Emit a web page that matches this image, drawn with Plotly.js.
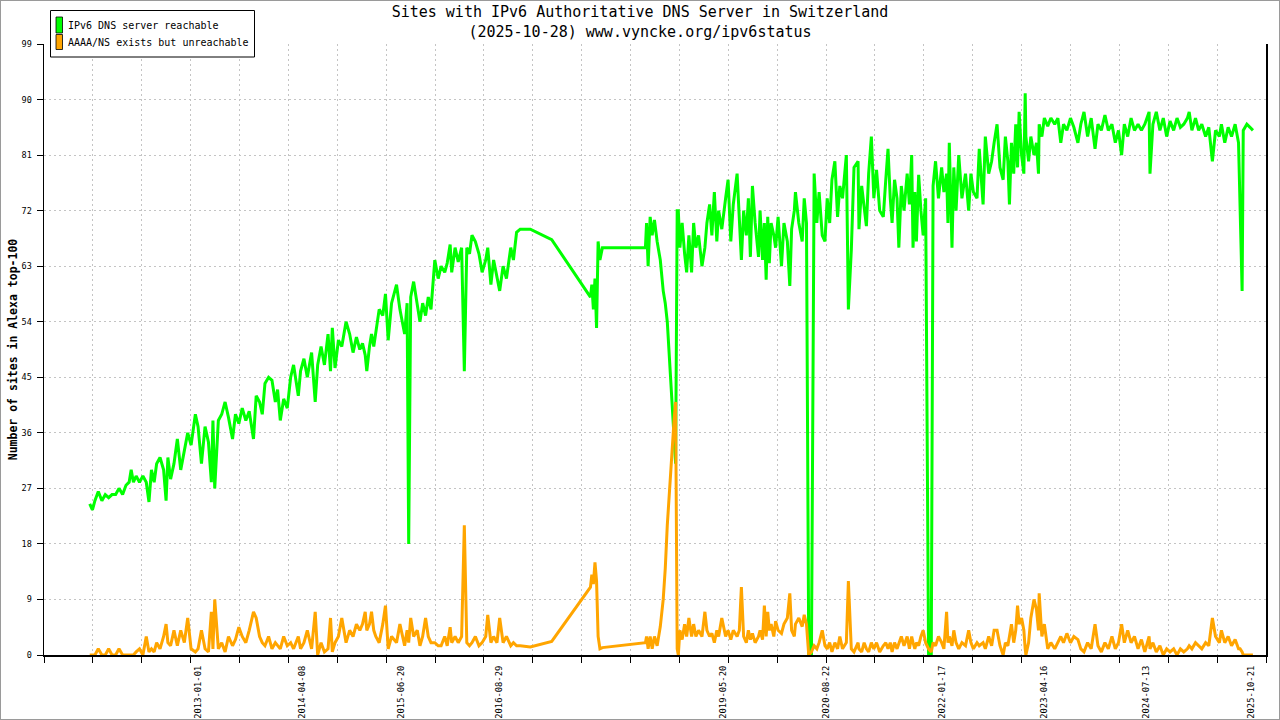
<!DOCTYPE html>
<html><head><meta charset="utf-8">
<script src="https://cdn.plot.ly/plotly-3.0.1.min.js"></script>
<style>
html,body{margin:0;padding:0;background:#fff;}
#wrap{position:relative;width:1280px;height:720px;}
#chart{width:1280px;height:720px;}
#frame{position:absolute;left:0;top:0;width:1280px;height:720px;box-sizing:border-box;border:1px solid #9a9a9a;pointer-events:none;}
</style></head><body>
<div id="wrap"><div id="chart"></div><div id="frame"></div></div>
<script>
const dates = [
'2011-09-08','2011-09-20','2011-10-01','2011-10-16','2011-11-01','2011-11-16','2011-12-01','2011-12-16',
'2012-01-01','2012-01-16','2012-02-01','2012-02-16','2012-03-01','2012-03-10','2012-03-20','2012-04-01','2012-04-16','2012-05-01','2012-05-16','2012-05-28','2012-06-08','2012-06-20','2012-07-01','2012-07-16','2012-08-01','2012-08-12','2012-08-20','2012-09-01','2012-09-16','2012-10-01','2012-10-16','2012-11-01','2012-11-16','2012-12-01','2012-12-20',
'2013-01-01','2013-01-16','2013-02-01','2013-02-16','2013-03-01','2013-03-08','2013-03-16','2013-04-01','2013-04-16','2013-05-01','2013-05-16','2013-06-03','2013-06-16','2013-07-01','2013-07-16','2013-08-01','2013-08-16','2013-09-04','2013-09-16','2013-10-01','2013-10-13','2013-10-25','2013-11-10','2013-11-25','2013-12-10','2013-12-20',
'2014-01-01','2014-01-16','2014-02-01','2014-02-16','2014-03-01','2014-03-22','2014-04-01','2014-04-16','2014-05-01','2014-05-20','2014-06-05','2014-06-16','2014-07-01','2014-07-16','2014-08-01','2014-08-12','2014-08-20','2014-09-01','2014-09-16','2014-10-01','2014-10-20','2014-11-05','2014-11-20','2014-12-05','2014-12-20',
'2015-01-01','2015-01-13','2015-01-20','2015-02-01','2015-02-10','2015-02-20','2015-03-01','2015-03-16','2015-04-01','2015-04-13','2015-04-25','2015-05-10','2015-06-01','2015-06-16','2015-07-07','2015-07-18','2015-07-25','2015-08-03','2015-08-16','2015-09-01','2015-09-13','2015-09-25','2015-10-08','2015-10-20','2015-11-01','2015-11-18','2015-12-03','2015-12-16',
'2016-01-01','2016-01-12','2016-01-25','2016-02-01','2016-02-16','2016-03-01','2016-03-16','2016-03-28','2016-04-08','2016-04-20','2016-05-01','2016-05-16','2016-06-01','2016-06-15','2016-07-01','2016-07-10','2016-07-24','2016-08-05','2016-08-20','2016-09-01','2016-09-16','2016-10-01','2016-10-20','2016-11-01','2016-11-15','2016-12-01',
'2017-01-15','2017-04-20','2017-10-09','2017-10-15','2017-10-22','2017-10-29','2017-11-05','2017-11-12','2017-11-20','2017-12-01',
'2018-06-10','2018-06-15','2018-06-22','2018-07-01','2018-07-10','2018-07-20','2018-08-01','2018-08-15','2018-08-28','2018-09-06','2018-09-15','2018-09-28','2018-10-07','2018-10-16','2018-10-22','2018-10-29','2018-11-03','2018-11-10','2018-11-20','2018-12-01','2018-12-10','2018-12-20',
'2019-01-01','2019-01-10','2019-01-20','2019-02-01','2019-02-16','2019-03-01','2019-03-10','2019-03-22','2019-04-01','2019-04-12','2019-04-23','2019-05-01','2019-05-15','2019-06-01','2019-06-12','2019-06-24','2019-07-05','2019-07-22','2019-08-01','2019-08-10','2019-08-20','2019-09-01','2019-09-10','2019-09-19','2019-09-28','2019-10-10','2019-10-25','2019-11-01','2019-11-12','2019-11-20','2019-11-28','2019-12-05','2019-12-12','2019-12-20',
'2020-01-01','2020-01-09','2020-01-20','2020-02-04','2020-02-15','2020-03-01','2020-03-12','2020-03-20','2020-04-01','2020-04-06','2020-04-21','2020-05-06','2020-05-15','2020-05-25','2020-06-04','2020-06-16','2020-06-28','2020-07-10','2020-07-20','2020-08-03','2020-08-15','2020-08-25','2020-09-05','2020-09-15','2020-09-28','2020-10-10','2020-10-20','2020-11-01','2020-11-18','2020-11-27','2020-12-10','2020-12-22',
'2021-01-09','2021-01-13','2021-01-25','2021-02-05','2021-02-15','2021-02-25','2021-03-09','2021-03-20','2021-04-01','2021-04-15','2021-05-01','2021-05-12','2021-05-22','2021-06-01','2021-06-09','2021-06-20','2021-07-01','2021-07-09','2021-07-20','2021-08-01','2021-08-15','2021-08-25','2021-09-04','2021-09-10','2021-09-18','2021-09-25','2021-10-05','2021-10-15','2021-10-25','2021-11-05','2021-11-18','2021-11-30','2021-12-08','2021-12-19',
'2022-01-01','2022-01-15','2022-01-25','2022-02-06','2022-02-12','2022-02-18','2022-03-02','2022-03-10','2022-03-20','2022-04-01','2022-04-15','2022-05-01','2022-05-15','2022-05-25','2022-06-05','2022-06-21','2022-07-01','2022-07-18','2022-07-28','2022-08-12','2022-08-25','2022-09-05','2022-09-18','2022-10-01','2022-10-15','2022-10-25','2022-11-05','2022-11-12','2022-11-21','2022-12-01','2022-12-10','2022-12-18','2022-12-25',
'2023-01-05','2023-01-15','2023-01-21','2023-01-24','2023-02-05','2023-02-15','2023-03-01','2023-03-12','2023-03-21','2023-03-24','2023-04-05','2023-04-16','2023-05-01','2023-05-15','2023-06-01','2023-06-15','2023-06-28','2023-07-10','2023-07-25','2023-08-10','2023-08-25','2023-09-12','2023-09-25','2023-10-09','2023-10-25','2023-11-10','2023-11-27','2023-12-10','2023-12-25',
'2024-01-10','2024-01-25','2024-02-10','2024-02-25','2024-03-10','2024-03-24','2024-04-05','2024-04-20','2024-05-05','2024-05-20','2024-06-05','2024-06-20','2024-07-05','2024-07-24','2024-07-28','2024-08-10','2024-08-25','2024-09-10','2024-09-25','2024-10-10','2024-10-25','2024-11-10','2024-11-25','2024-12-10','2024-12-25',
'2025-01-10','2025-01-18','2025-01-30','2025-02-15','2025-03-01','2025-03-15','2025-04-01','2025-04-15','2025-05-01','2025-05-15','2025-06-01','2025-06-10','2025-06-25','2025-07-10','2025-07-25','2025-08-10','2025-08-25','2025-09-01','2025-09-10','2025-09-15','2025-10-01','2025-10-15','2025-10-28'
];
const reachable = [
24.5,23.5,25,26.5,25,26,25.5,26,
26,27,26,27.5,28,30,28,29,28,29,28,24.8,30,28,31,32,30,25,32,28.5,31,35,30,33,36,34,39,
37,31,37,34.5,28,38,27,38,39,41,38.5,35,39,37.5,40,38,39.5,35,42,41,39,44,45,44.5,41,43,
38,41.5,40,45,47,42,46,48,45,49,41,47,50,47,52,46,53,46.5,51,50,54,52,49,51.5,49.5,
50.5,48.6,46,50,52,50,52,56,55,58.5,51,57,60,56,52,57,18,58,60.5,57,54,57,55,58,56,64,61,63,
62,63.5,66.5,62,66,63.7,66,46,66,65,68,67,65,62,64,66,60,64,61,59,63,61,66,64,68.5,69,
69,67.3,58,60,56,61,53,67,64,66,
66,70,63,71,68,70.5,67,64,59,57,54,46,40,34,31,72,72,66,70,65,62,68,
62,70,66,68,63,66,70,73,68,75,67,72,69,74,77,67,73,78,70,64,72,68,74,64.5,76,70,64.5,72,64,70,60.8,71,63.5,70,
68,66,71,63,70,67,59.8,69,72,75,70,67,74,70,0,0,78,70,75,68,67,74,70,77,80,71,76,74,81,56,65.6,79,
80,69,76,72,69.5,78,84,74,78.6,72,71,77,82,74,70,77,74,66,76,72,78,73,81,66,75,67,77.8,72,68,74,0,0,76,80,
74,79,75,78,70,83,66,79,72,81,74,78,72,78,75,74,82,73,84,78,80,83,86,79,77,84,80,73,83,78,86,79,88,
81,78,91,84,80,84,81,83,78,86,84,87,85.7,87,86,87,83,86,85,87,85.5,83,86,88,84,87,82,86,85,
87.5,85,86,83,85,81,86,84,87,85,86,85,86,88,78,86,88,85,87,84,86.5,85,87,85.5,86,
87,88,85,87,85,86,84,85.5,80,85,84,86,83,85.5,84,86,83,72.7,59,85,86,85.5,85
];
const unreachable = [
0,0,0,1,0,0,1,0,
0,1,0,0,0,0,0,0.5,1,0,3,0.5,1,0.5,2,1,3,5,2,1.5,4,1.5,4,2,6,1,0.5,
1,4,1,0.5,7,1,9,1,2,0.5,3,1.5,2.5,4.5,3,2,4,7,6,3,2,1.5,3,1,2,1.5,
1,3,1.5,2,1,3,1,2,4,1,7,0,2,0.5,1,6,0.5,2,3,6,2,4,3,5,4,
5,7,4,5,7,4,3,2,5,8,1,3,2,5,1.5,4,2,6,3,4,1.5,3,6,3,2,2,1.5,1.5,
3,1.5,4.5,2,3,2,3,21,2,1.5,2,3,1.5,2,3,6.5,2,3,2,6,2,3,1.5,2,1.5,1.5,
1.3,2.2,11,13,11.5,15,12,3,1,1.2,
2,3,1,3,1,3,1.5,4.6,9,14,21,29,34,38.5,41,1,0,4,2.5,5,3,6,
3,5,3,4,3,7,4,3,3.5,2,4,3,6,3,4,2.5,4,3,4,11,3,2,4,2.5,3.5,2,3,4,2.5,8,3,7,4,5,
3,5.5,4,3.5,5,6,10,4,3,5,6,4.6,6.5,5,0,0.5,1.5,1,2,4,1.5,1,2,0.5,2,1,3,1,2,12,1,0.5,
2,1,0.5,2,1,0.5,2,1,2,0.5,1.5,2,1,2,0.5,2,1,2,3,1.5,3,1,3,2,1,2,1.5,3,4,2,1,0.5,2,1.5,
3,2,1,7,2,3,1.5,4,2,1,2,1.5,4,2,1,2,1.5,2,1,3,1.5,4,4,1.5,0,2,1.5,3,5,2,4,8,5,
6,4,1,0,2,6,9,7.4,4,10,3,5,1,2,1,2,3,2,3.5,2,3,2.5,1,0.5,2,1,5,1.5,0.5,
2,1,3,1,2,5,2,4,2,3,1,2.5,0.5,3,1,2,0.5,1.5,0,1,0.5,1,0,1,0.5,
1,1.5,1,2,1.5,1,2,1.5,6,3,2,4,2,3,1.5,2.5,1,1,0.5,0,0,0,0
];
const seriesNames = ['IPv6 DNS server reachable', 'AAAA/NS exists but unreachable'];
const seriesColors = ['#00ff00', '#ffa500'];
const labelDates = ['2013-01-01','2014-04-08','2015-06-20','2016-08-29','2019-05-20','2020-08-22','2022-01-17','2023-04-16','2024-07-13','2025-10-21'];
const yTicks = [0,9,18,27,36,45,54,63,72,81,90,99];
const xRange = ['2011-02-17','2025-12-25'];
const titleLines = ['Sites with IPv6 Authoritative DNS Server in Switzerland', '(2025-10-28) www.vyncke.org/ipv6status'];
const yTitle = 'Number of sites in Alexa top-100';

const MONO = 'DejaVu Sans Mono, monospace';
const GRID = '#c4c4c4';

const traces = [
  {type:'scatter', mode:'lines', x:dates, y:reachable, name:seriesNames[0],
   line:{color:seriesColors[0], width:3}, showlegend:false, hoverinfo:'x+y'},
  {type:'scatter', mode:'lines', x:dates, y:unreachable, name:seriesNames[1],
   line:{color:seriesColors[1], width:3}, showlegend:false, hoverinfo:'x+y'}
];

// paper-coordinate helpers for the legend (plot area: x 44..1266, y 44..655)
const PX = v => (v - 44) / 1222;
const PY = v => (655 - v) / 611;

const layout = {
  width:1280, height:720,
  paper_bgcolor:'#ffffff', plot_bgcolor:'#ffffff',
  margin:{l:44, r:14, t:44, b:65, pad:0},
  font:{family:MONO, color:'#000'},
  showlegend:false,
  title:{text:titleLines.join('<br>'), font:{family:MONO, size:15, color:'#000'},
         x:0.5, xref:'container', xanchor:'center', y:0.976, yref:'container', yanchor:'top'},
  xaxis:{type:'date', range:xRange, tick0:xRange[0], dtick:217*86400000,
         showticklabels:false, ticks:'outside', ticklen:6, tickwidth:1, tickcolor:'#000',
         showgrid:true, gridcolor:GRID, griddash:'2px,3px', gridwidth:1,
         showline:true, linecolor:'#000', linewidth:1.5, zeroline:false, fixedrange:true},
  xaxis2:{type:'date', range:xRange, overlaying:'x', anchor:'y', side:'bottom',
          tickmode:'array', tickvals:labelDates, ticktext:labelDates, tickangle:-90,
          ticks:'', showgrid:false, showline:false, zeroline:false,
          ticklabelstandoff:8,
          tickfont:{family:MONO, size:8.8, color:'#000'}, fixedrange:true},
  yaxis:{range:[0,99], tickmode:'array', tickvals:yTicks, ticktext:yTicks.map(String),
         ticks:'outside', ticklen:6, tickwidth:1, tickcolor:'#000',
         tickfont:{family:MONO, size:8.5, color:'#000'}, ticklabelstandoff:3,
         showgrid:true, gridcolor:GRID, griddash:'2px,3px', gridwidth:1,
         showline:true, mirror:true, linecolor:'#000', linewidth:1.5, zeroline:false,
         title:{text:'<b>'+yTitle+'</b>', font:{family:MONO, size:11.5, color:'#000'}, standoff:1},
         fixedrange:true},
  shapes:[
    {type:'rect', xref:'paper', yref:'paper', x0:PX(50.5), x1:PX(254.5), y0:PY(57), y1:PY(10.5),
     line:{color:'#000', width:1}, fillcolor:'#ffffff', layer:'above'},
    {type:'rect', xref:'paper', yref:'paper', x0:PX(56), x1:PX(62.5), y0:PY(33), y1:PY(17),
     line:{color:'#000', width:0.8}, fillcolor:seriesColors[0], layer:'above'},
    {type:'rect', xref:'paper', yref:'paper', x0:PX(56), x1:PX(62.5), y0:PY(49.5), y1:PY(34.5),
     line:{color:'#000', width:0.8}, fillcolor:seriesColors[1], layer:'above'}
  ],
  annotations:[
    {xref:'paper', yref:'paper', x:PX(66), y:PY(25.5), xanchor:'left', yanchor:'middle',
     text:seriesNames[0], showarrow:false, font:{family:MONO, size:10, color:'#000'}},
    {xref:'paper', yref:'paper', x:PX(66), y:PY(43), xanchor:'left', yanchor:'middle',
     text:seriesNames[1], showarrow:false, font:{family:MONO, size:10, color:'#000'}}
  ]
};

// an invisible trace on xaxis2 so the date-label axis is drawn
traces.push({type:'scatter', mode:'lines', x:[xRange[0]], y:[0], xaxis:'x2', yaxis:'y',
  line:{width:0}, showlegend:false, hoverinfo:'skip'});

Plotly.newPlot('chart', traces, layout, {displayModeBar:false, staticPlot:true});
</script>
</body></html>
